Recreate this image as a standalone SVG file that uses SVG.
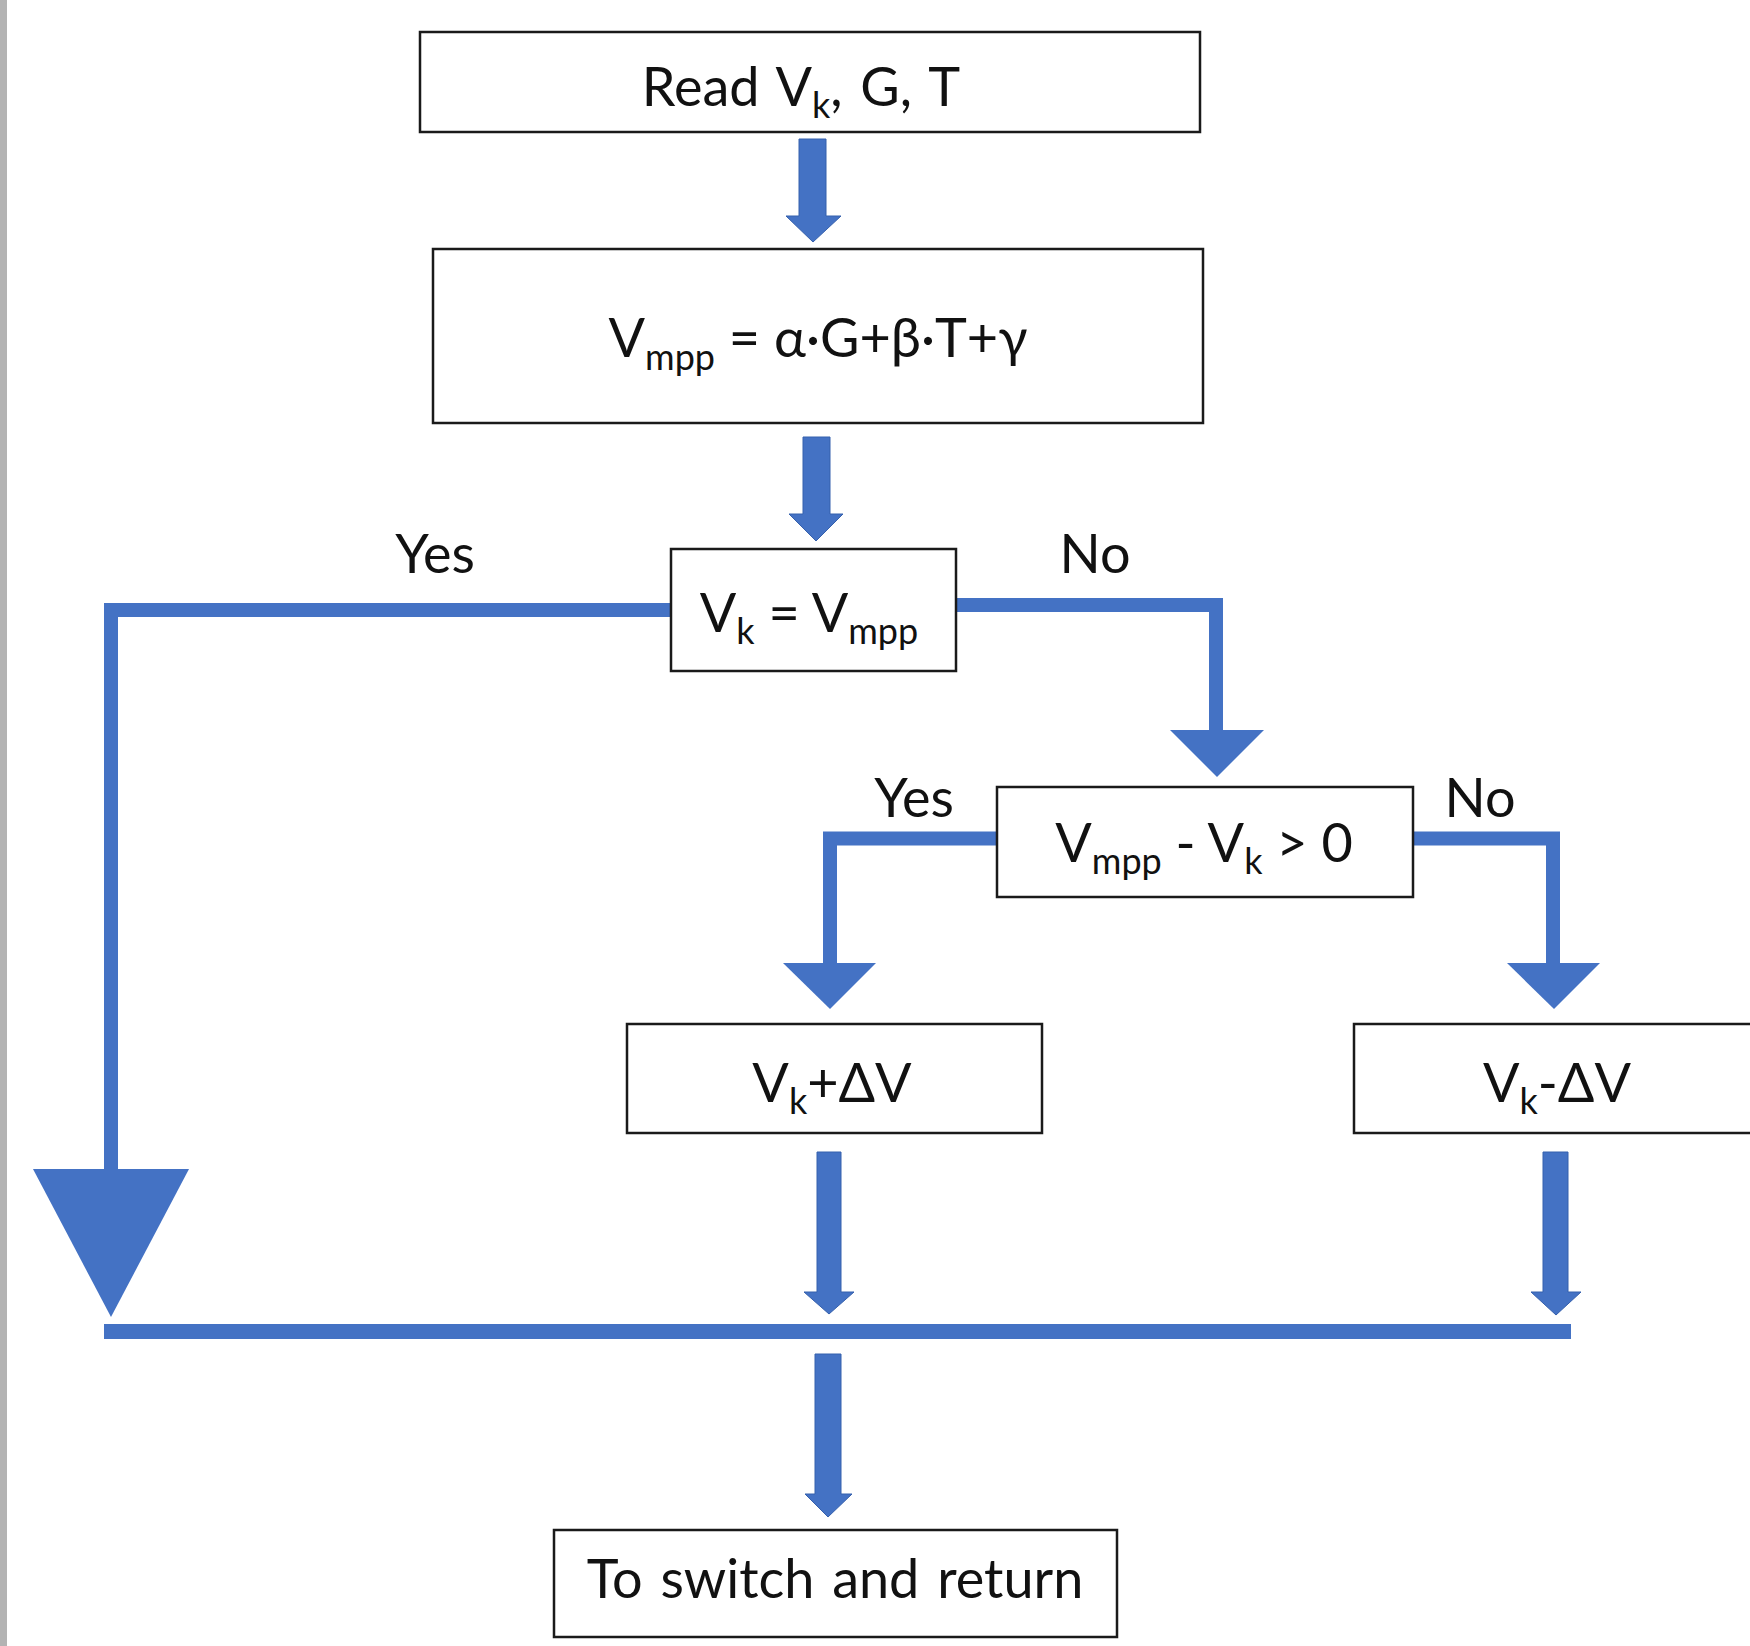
<svg xmlns="http://www.w3.org/2000/svg" width="1750" height="1646" viewBox="0 0 1750 1646">
  <style>
    .box { fill: #ffffff; stroke: #1a1a1a; stroke-width: 2.5; }
    .lbl { font-family: Lato, "Open Sans", "Liberation Sans", sans-serif; font-size: 54px; fill: #111111; }
    .mid { text-anchor: middle; }
    .sub { font-size: 36px; }
    .flow { fill: none; stroke: #4472C4; stroke-width: 14; stroke-linejoin: miter; stroke-linecap: butt; }
    .head { fill: #4472C4; }
    .block { fill: #4472C4; stroke: #3560ad; stroke-width: 1; }
  </style>

  <rect x="0" y="0" width="1750" height="1646" fill="#ffffff"/>
  <!-- page edge on the left -->
  <rect x="0" y="0" width="7" height="1646" fill="#b3b3b3"/>

  <!-- connectors -->
  <g id="connectors">
    <!-- Read -> Vmpp -->
    <polygon class="block" points="799,139 826,139 826,216 841,216 813,242 786,216 799,216"/>
    <!-- Vmpp -> decision -->
    <polygon class="block" points="803,437 830,437 830,514 843,514 816,541 789,514 803,514"/>

    <!-- Yes branch of first decision -->
    <path class="flow" d="M671,610 H111 V1172"/>
    <polygon class="head" points="33,1169 189,1169 111,1317"/>

    <!-- No branch of first decision -->
    <path class="flow" d="M957,605 H1216 V732"/>
    <polygon class="head" points="1170,730 1264,730 1217,777"/>

    <!-- Yes branch of second decision -->
    <path class="flow" stroke-width="15" d="M997,838.5 H830 V965"/>
    <polygon class="head" points="783,963 876,963 830,1009"/>

    <!-- No branch of second decision -->
    <path class="flow" stroke-width="15" d="M1413,838.5 H1553 V965"/>
    <polygon class="head" points="1507,963 1600,963 1554,1009"/>

    <!-- outputs into the collector bar -->
    <polygon class="block" points="817,1152 841,1152 841,1292 854,1292 829,1314 804,1292 817,1292"/>
    <polygon class="block" points="1543,1152 1568,1152 1568,1292 1581,1292 1556,1315 1531,1292 1543,1292"/>

    <!-- collector bar -->
    <rect x="104" y="1324" width="1467" height="15" fill="#4472C4"/>

    <!-- bar -> final step -->
    <polygon class="block" points="815,1354 841,1354 841,1494 852,1494 828,1517 805,1494 815,1494"/>

    <!-- branch labels -->
    <text class="lbl mid" x="435" y="573">Yes</text>
    <text class="lbl mid" x="1095" y="573">No</text>
    <text class="lbl mid" x="914" y="817">Yes</text>
    <text class="lbl mid" x="1480" y="817">No</text>
  </g>

  <g id="read">
    <rect class="box" x="420" y="32" width="780" height="100"/>
    <text class="lbl mid" x="801" y="106" word-spacing="4">Read V<tspan class="sub" dy="12">k</tspan><tspan dy="-12">, G, T</tspan></text>
  </g>

  <g id="vmpp">
    <rect class="box" x="433" y="249" width="770" height="174"/>
    <text class="lbl mid" x="818" y="357">V<tspan class="sub" dy="13">mpp</tspan><tspan dy="-13"> = α·G+β·T+γ</tspan></text>
  </g>

  <g id="check-equal">
    <rect class="box" x="671" y="549" width="285" height="122"/>
    <text class="lbl mid" x="809" y="632">V<tspan class="sub" dy="12">k</tspan><tspan dy="-12"> = V</tspan><tspan class="sub" dy="12">mpp</tspan></text>
  </g>

  <g id="check-sign">
    <rect class="box" x="997" y="787" width="416" height="110"/>
    <text class="lbl mid" x="1204" y="862">V<tspan class="sub" dy="12">mpp</tspan><tspan dy="-12"> - V</tspan><tspan class="sub" dy="12">k</tspan><tspan dy="-12"> &gt; 0</tspan></text>
  </g>

  <g id="increase">
    <rect class="box" x="627" y="1024" width="415" height="109"/>
    <text class="lbl mid" x="832" y="1102">V<tspan class="sub" dy="12">k</tspan><tspan dy="-12">+ΔV</tspan></text>
  </g>

  <g id="decrease">
    <rect class="box" x="1354" y="1024" width="420" height="109"/>
    <text class="lbl mid" x="1557" y="1102">V<tspan class="sub" dy="12">k</tspan><tspan dy="-12">-ΔV</tspan></text>
  </g>

  <g id="switch-return">
    <rect class="box" x="554" y="1530" width="563" height="107"/>
    <text class="lbl mid" x="835" y="1598" font-size="56" word-spacing="4">To switch and return</text>
  </g>
</svg>
